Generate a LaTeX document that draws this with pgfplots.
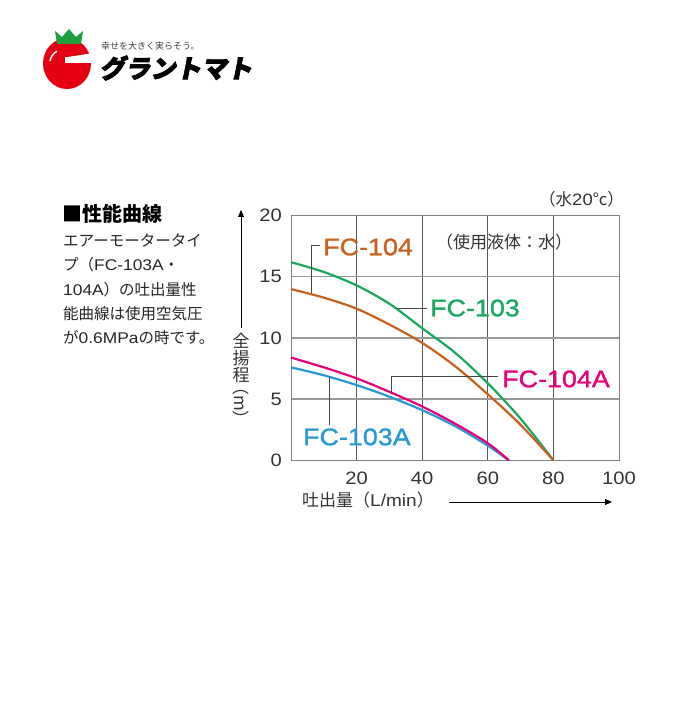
\documentclass[border=0pt]{standalone}
\usepackage{fontspec}
\setmainfont{Noto Sans CJK JP}
\newfontfamily\latin[FakeStretch=1.12]{Liberation Sans}
\newfontfamily\latinlab[FakeStretch=1.12, FakeBold=1.2]{Liberation Sans}
\newfontfamily\logofont[FakeSlant=0.2, FakeBold=3]{Noto Sans CJK JP}
\usepackage{pgfplots}
\pgfplotsset{compat=1.18}
\usetikzlibrary{arrows.meta}

\definecolor{cgreen}{RGB}{26,168,96}
\definecolor{corange}{RGB}{200,96,32}
\definecolor{cpink}{RGB}{230,0,120}
\definecolor{cblue}{RGB}{40,152,214}
\definecolor{tomred}{RGB}{228,0,18}
\definecolor{crown}{RGB}{30,158,60}
\definecolor{leader}{RGB}{70,70,70}

\newcommand{\fs}[1]{\fontsize{#1pt}{#1pt}\selectfont}

\begin{document}
\begin{tikzpicture}
\begin{scope}[x=1pt,y=1pt]
\path[use as bounding box, fill=white] (0,0) rectangle (700,721);

% logo
\fill[tomred] (67,657.5) ellipse [x radius=24, y radius=25.5];
\fill[white] (65,663.5) rectangle (93,657.5);
\fill[white] (65,663.5) -- (93,663.5) -- (93,668) -- cycle;
\draw[white, line width=1.5pt] (50,660) arc[start angle=170, end angle=120, radius=14];
\fill[crown] (57,677) -- (55,690) -- (62,684) -- (69,692) -- (76,684) -- (83,690) -- (81,677) -- cycle;
\node[anchor=west, inner sep=0pt, text=black!75] at (101,674.5) {\fs{9}幸せを大きく実らそう。};
\node[anchor=west, inner sep=0pt] at (99,653) {\logofont\bfseries\fs{25.5}グラントマト};

% left text
\node[anchor=west, inner sep=0pt] at (62,507) {\bfseries\fs{20}■性能曲線};
\node[anchor=west, inner sep=0pt, text=black!85] at (63,480) {\fs{15.5}エアーモータータイ};
\node[anchor=west, inner sep=0pt, text=black!85] at (63,456) {\fs{15.5}プ（{\latin FC-103A}・};
\node[anchor=west, inner sep=0pt, text=black!85] at (63,431.5) {\fs{15.5}{\latin 104A}）の吐出量性};
\node[anchor=west, inner sep=0pt, text=black!85] at (63,407) {\fs{15.5}能曲線は使用空気圧};
\node[anchor=west, inner sep=0pt, text=black!85] at (63,383) {\fs{15.5}が{\latin 0.6MPa}の時です。};

% note top right
\node[anchor=east, inner sep=0pt, text=black!80] at (624,522) {\fs{16.5}（水{\latin 20}°c）};

% y label with arrow
\draw[-{Triangle[length=7pt,width=6pt]}, line width=0.8pt] (241,393) -- (241,511);
\node[inner sep=0pt, text=black!80] at (241,380) {\fs{17}全};
\node[inner sep=0pt, text=black!80] at (241,363) {\fs{17}揚};
\node[inner sep=0pt, text=black!80] at (241,346) {\fs{17}程};
\node[inner sep=0pt, text=black!80, rotate=-90] at (241,318) {\fs{17}（m）};

% x label with arrow
\node[anchor=west, inner sep=0pt, text=black!80] at (302,221) {\fs{17}吐出量（{\latin L/min}）};
\draw[-{Triangle[length=7pt,width=6pt]}, line width=0.8pt] (449,219) -- (612,219);
\end{scope}

\begin{axis}[
  at={(291pt,260.7pt)}, anchor=south west,
  scale only axis, width=328pt, height=244.6pt,
  xmin=0, xmax=100, ymin=0, ymax=20,
  xtick={20,40,60,80,100}, ytick={0,5,10,15,20},
  major tick length=0pt,
  grid=major,
  x grid style={black!65, line width=0.7pt},
  y grid style={black!40, line width=1.3pt},
  axis line style={black!50, line width=1pt},
  /pgf/number format/assume math mode=true,
  ticklabel style={font=\latin\fs{18}, text=black!80},
  yticklabel style={anchor=east, inner sep=0pt, xshift=-9pt},
  xticklabel style={anchor=center, inner sep=0pt, yshift=-18pt},
  clip=false,
]
\addplot[cgreen, line width=2.2pt, smooth] coordinates {
  (0,16.2) (10,15.4) (20,14.3) (30,12.8) (40,10.8) (50,8.8) (60,6.3) (70,3.4) (80,0)};
\addplot[corange, line width=2.2pt, smooth] coordinates {
  (0,14.0) (10,13.3) (20,12.4) (30,11.1) (40,9.6) (50,7.7) (60,5.4) (70,2.9) (80,0)};
\addplot[cblue, line width=2.2pt, smooth] coordinates {
  (0,7.6) (10,6.95) (20,6.15) (30,5.2) (40,4.1) (50,2.8) (60,1.2) (66.4,0)};
\addplot[cpink, line width=2.2pt, smooth] coordinates {
  (0,8.4) (10,7.6) (20,6.7) (30,5.6) (40,4.4) (50,3.0) (60,1.4) (66.4,0)};

% leader lines
\draw[leader, line width=0.7pt] (axis cs:6.1,13.7) -- (axis cs:6.1,17.55) -- (axis cs:8.9,17.55);
\draw[leader, line width=0.7pt] (axis cs:32.3,12.4) -- (axis cs:41.6,12.4);
\draw[leader, line width=0.7pt] (axis cs:30.6,5.6) -- (axis cs:30.6,6.89) -- (axis cs:63.2,6.89);
\draw[leader, line width=0.7pt] (axis cs:11.8,6.84) -- (axis cs:11.8,2.9);

% curve labels
\node[text=corange, inner sep=0pt] at (axis cs:23.5,17.44) {\latinlab\fs{24}FC-104};
\node[text=cgreen, inner sep=0pt] at (axis cs:56.1,12.45) {\latinlab\fs{24}FC-103};
\node[text=cpink, inner sep=0pt] at (axis cs:80.8,6.65) {\latinlab\fs{24}FC-104A};
\node[text=cblue, inner sep=0pt] at (axis cs:20.1,1.91) {\latinlab\fs{24}FC-103A};
\node[text=black!80, inner sep=0pt] at (axis cs:65,17.85) {\fs{17}（使用液体：水）};
\end{axis}
\end{tikzpicture}
\end{document}
